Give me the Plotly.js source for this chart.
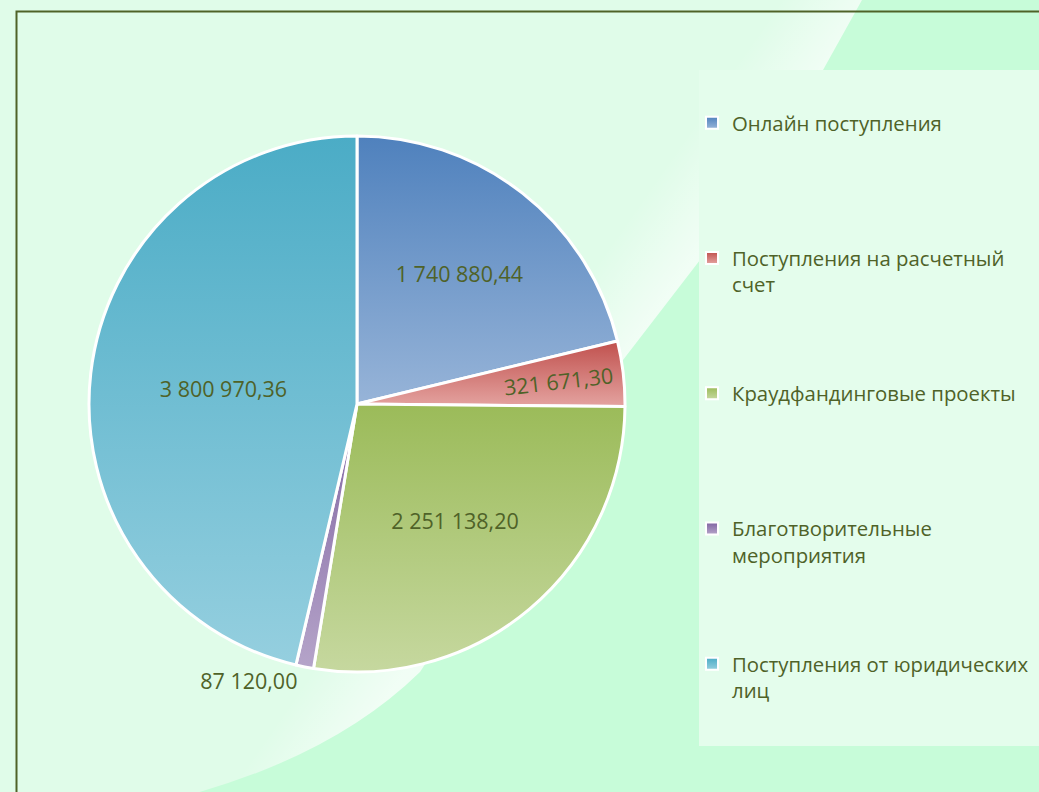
<!DOCTYPE html>
<html>
<head>
<meta charset="utf-8">
<script src="https://cdn.plot.ly/plotly-3.0.1.min.js"></script>
<style>
  html, body { margin: 0; padding: 0; }
  body { width: 1039px; height: 792px; overflow: hidden; position: relative; background: #e0fce9; }
  #bg { position: absolute; left: 0; top: 0; }
  #chart { position: absolute; left: 0; top: 0; width: 1039px; height: 792px; }
</style>
</head>
<body>
<svg id="bg" width="1039" height="792" xmlns="http://www.w3.org/2000/svg">
  <defs>
    <linearGradient id="streak" gradientUnits="userSpaceOnUse" x1="560" y1="316" x2="623" y2="360">
      <stop offset="0" stop-color="#ffffff" stop-opacity="0"/>
      <stop offset="1" stop-color="#ffffff" stop-opacity="0.55"/>
    </linearGradient>
  </defs>
  <rect x="0" y="0" width="1039" height="792" fill="url(#streak)"/>
  <path d="M862,0 L823,70 L700,260 L623,360 L420,672 Q330,760 170,800 L1039,800 L1039,0 Z" fill="#c7fcd9"/>
</svg>
<svg width="0" height="0" style="position:absolute">
  <defs id="gradDefs"></defs>
</svg>
<div id="chart"></div>
<script>
// ---- data ----
var categories = [
  'Онлайн поступления',
  'Поступления на расчетный счет',
  'Краудфандинговые проекты',
  'Благотворительные мероприятия',
  'Поступления от юридических лиц'
];
var values = [1740880.44, 321671.30, 2251138.20, 87120.00, 3800970.36];
var legendLines = [
  ['Онлайн поступления', ''],
  ['Поступления на расчетный', 'счет'],
  ['Краудфандинговые проекты', ''],
  ['Благотворительные', 'мероприятия'],
  ['Поступления от юридических', 'лиц']
];
var colorsTop    = ['#4f81bd', '#c0504d', '#9bbb59', '#8064a2', '#4bacc6'];
var colorsBottom = ['#97b4d8', '#e4a3a0', '#c6d89f', '#b5a4c9', '#95cfdf'];
var textPositions = ['inside', 'inside', 'inside', 'outside', 'inside'];

// ---- gradients ----
var NS = 'http://www.w3.org/2000/svg';
var defs = document.getElementById('gradDefs');
colorsTop.forEach(function (c, i) {
  var g = document.createElementNS(NS, 'linearGradient');
  g.setAttribute('id', 'grad' + i);
  g.setAttribute('x1', '0'); g.setAttribute('y1', '0');
  g.setAttribute('x2', '0'); g.setAttribute('y2', '1');
  var s1 = document.createElementNS(NS, 'stop');
  s1.setAttribute('offset', '0'); s1.setAttribute('stop-color', c);
  var s2 = document.createElementNS(NS, 'stop');
  s2.setAttribute('offset', '1'); s2.setAttribute('stop-color', colorsBottom[i]);
  g.appendChild(s1); g.appendChild(s2);
  defs.appendChild(g);
});

var NB = '\u00a0';
var displayLabels = legendLines.map(function (l) {
  return [NB, NB, l[0], l[1] || NB, NB].join('<br>');
});

var textColor = '#4f6228';
var W = 1039, H = 792;
var cx = 357, cy = 404, R = 268;

var trace = {
  type: 'pie',
  labels: displayLabels,
  values: values,
  sort: false,
  direction: 'clockwise',
  rotation: 0,
  marker: {
    colors: colorsTop,
    line: { color: '#ffffff', width: 3 }
  },
  textinfo: 'value',
  texttemplate: '%{value:,.2f}',
  textposition: textPositions,
  insidetextorientation: 'auto',
  insidetextfont: { family: 'Open Sans', size: 21.5, color: textColor },
  outsidetextfont: { family: 'Open Sans', size: 21.5, color: textColor },
  hoverinfo: 'none',
  domain: {
    x: [(cx - R) / W, (cx + R) / W],
    y: [(H - cy - R) / H, (H - cy + R) / H]
  },
  automargin: false
};

var layout = {
  width: W, height: H,
  margin: { l: 0, r: 0, t: 0, b: 0 },
  paper_bgcolor: 'rgba(0,0,0,0)',
  plot_bgcolor: 'rgba(0,0,0,0)',
  separators: ', ',
  showlegend: true,
  legend: {
    x: 692 / W, xanchor: 'left',
    y: (H - 50) / H, yanchor: 'top',
    bgcolor: 'rgba(0,0,0,0)',
    font: { family: 'Open Sans', size: 20.35, color: textColor },
    traceorder: 'normal'
  },
  shapes: [
    {
      type: 'rect', xref: 'paper', yref: 'paper', layer: 'below',
      x0: 699 / W, x1: 1.01, y0: (H - 746) / H, y1: (H - 70) / H,
      fillcolor: '#e4fdec', line: { width: 0 }
    },
    {
      type: 'path', xref: 'paper', yref: 'paper', layer: 'below',
      path: 'M ' + (16.5 / W) + ',' + (-0.02) + ' L ' + (16.5 / W) + ',' + ((H - 11.5) / H) + ' L 1.02,' + ((H - 11.5) / H),
      line: { color: '#4f6228', width: 2 }
    }
  ]
};

Plotly.newPlot('chart', [trace], layout, { displayModeBar: false, staticPlot: true }).then(function () {
  var paths = document.querySelectorAll('#chart .slice path.surface');
  paths.forEach(function (p, i) {
    p.style.fill = 'url(#grad' + i + ')';
  });
  var lp = document.querySelectorAll('#chart .legendpoints path');
  lp.forEach(function (p, i) {
    p.style.fill = 'url(#grad' + i + ')';
    p.style.strokeWidth = '2px';
  });
});
</script>
</body>
</html>
